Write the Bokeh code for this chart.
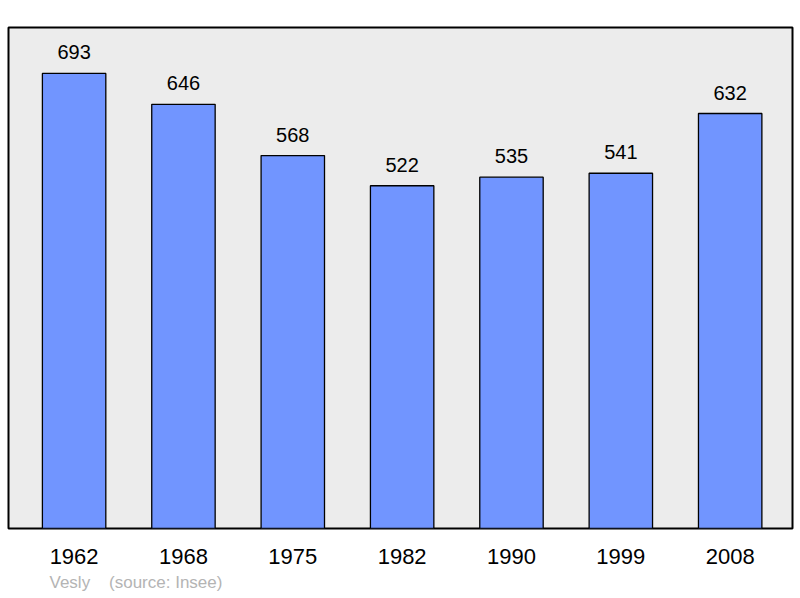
from bokeh.plotting import figure
from bokeh.models import FixedTicker, Range1d, ColumnDataSource, Title
from bokeh.core.properties import value
from bokeh.embed import file_html
from bokeh.resources import INLINE

years = ["1962", "1968", "1975", "1982", "1990", "1999", "2008"]
population = [693, 646, 568, 522, 535, 541, 632]
place = "Vesly"
source_note = "(source: Insee)"

xs = list(range(len(years)))
src = ColumnDataSource(dict(x=xs, y=population, label=[str(v) for v in population]))

p = figure(width=800, height=598, output_backend="svg", toolbar_location=None,
           x_range=Range1d(-0.6, 6.57), y_range=Range1d(0, 763),
           min_border_left=8, min_border_right=8, min_border_top=27, min_border_bottom=70)
p.background_fill_color = "#ececec"
p.border_fill_color = "white"
p.outline_line_color = "black"
p.outline_line_width = 2
p.grid.visible = False
p.yaxis.visible = False

p.vbar(x="x", top="y", width=0.58, bottom=0, source=src,
       fill_color="#7195ff", line_color="black", line_width=1.3)
p.text(x="x", y="y", text="label", source=src, y_offset=-14,
       text_align="center", text_baseline="bottom",
       text_font=value("Liberation Sans"), text_font_size="20px", text_color="black")

ax = p.xaxis[0]
ax.ticker = FixedTicker(ticks=xs)
ax.major_label_overrides = {i: y for i, y in zip(xs, years)}
ax.axis_line_color = None
ax.major_tick_line_color = None
ax.minor_tick_line_color = None
ax.major_label_text_font = "Liberation Sans"
ax.major_label_text_font_size = "22px"
ax.major_label_text_color = "black"
ax.major_label_standoff = 14

footer = Title(text=place + "\u00a0" * 4 + source_note, align="left", offset=41,
               text_font="Liberation Sans", text_font_size="17px",
               text_font_style="normal", text_color="#b4b4b4", standoff=9)
p.add_layout(footer, "below")

open("out.html", "w").write(file_html(p, INLINE))
